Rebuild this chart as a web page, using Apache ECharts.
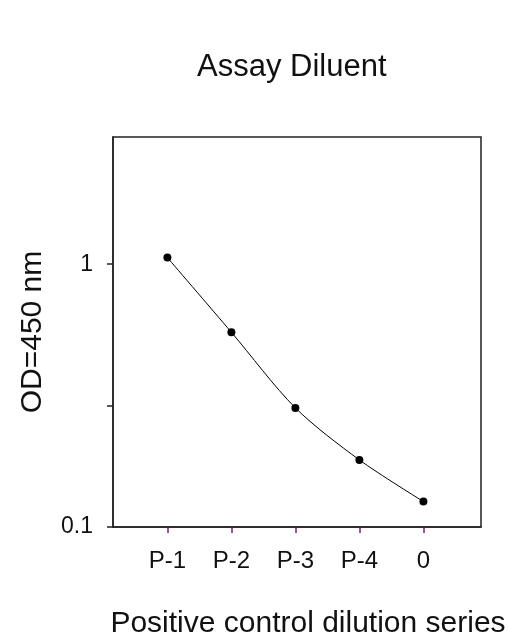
<!DOCTYPE html>
<html>
<head>
<meta charset="utf-8">
<script src="https://cdn.jsdelivr.net/npm/echarts@6/dist/echarts.min.js"></script>
<style>html,body{margin:0;padding:0;background:#fff}#c{width:508px;height:639px}</style>
</head>
<body>
<div id="c"></div>
<script>
var categories = ['P-1', 'P-2', 'P-3', 'P-4', '0'];
var positions = [1, 2, 3, 4, 5];
var odValues = [1.06, 0.551, 0.284, 0.180, 0.125];
var yLabelValues = [0.1, 1];
var yTickValues = [0.1, 0.29, 1];

var chart = echarts.init(document.getElementById('c'), null, {renderer: 'canvas'});
var FONT = '"Liberation Sans", Arial, sans-serif';
var data = positions.map(function (p, i) { return [p, odValues[i]]; });

chart.setOption({
  animation: false,
  backgroundColor: '#fff',
  title: {
    text: 'Assay Diluent',
    left: 197,
    top: 52,
    textStyle: {fontFamily: FONT, fontSize: 31, fontWeight: 'normal', color: '#111'},
    padding: 0
  },
  grid: {
    left: 113, right: 27, top: 137, bottom: 112,
    outerBoundsMode: 'none',
    containLabel: false,
    show: true, borderColor: '#222', borderWidth: 1.5, backgroundColor: '#fff'
  },
  xAxis: {
    type: 'value',
    min: 0.15, max: 5.9,
    name: 'Positive control dilution series',
    nameLocation: 'middle',
    nameGap: 82,
    nameTextStyle: {fontFamily: FONT, fontSize: 30, color: '#111', padding: [0, 0, 0, 22]},
    splitLine: {show: false},
    axisLine: {onZero: false, lineStyle: {color: '#222', width: 1.5}},
    axisTick: {show: true, length: 6, customValues: positions, lineStyle: {color: '#7a1a7a', width: 1.5}},
    axisLabel: {
      customValues: positions,
      margin: 22,
      fontFamily: FONT, fontSize: 24, color: '#111',
      formatter: function (v) { return categories[Math.round(v) - 1]; }
    }
  },
  yAxis: {
    type: 'log',
    logBase: 10,
    min: 0.1, max: 3.05,
    name: 'OD=450 nm',
    nameLocation: 'middle',
    nameGap: 65,
    nameRotate: 90,
    nameTextStyle: {fontFamily: FONT, fontSize: 30, color: '#111'},
    splitLine: {show: false},
    axisLine: {lineStyle: {color: '#222', width: 1.5}},
    axisTick: {show: true, length: 6, customValues: yTickValues, lineStyle: {color: '#222', width: 1.5}},
    axisLabel: {
      customValues: yLabelValues,
      margin: 20,
      fontFamily: FONT, fontSize: 23, color: '#111',
      formatter: function (v) { return v >= 1 ? String(Math.round(v)) : String(+v.toFixed(1)); }
    }
  },
  series: [{
    type: 'line',
    data: data,
    smooth: 0.3,
    symbol: 'circle',
    symbolSize: 8,
    itemStyle: {color: '#000'},
    lineStyle: {color: '#000', width: 1}
  }]
});
</script>
</body>
</html>
